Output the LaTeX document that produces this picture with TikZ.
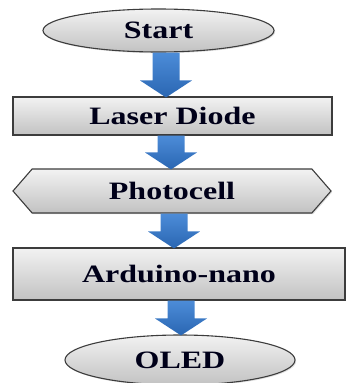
\documentclass[tikz,border=0pt]{standalone}
\usepackage{fontspec}
\setmainfont{Liberation Serif}
\usepackage{tikz}
\usetikzlibrary{calc, shapes.geometric, shapes.symbols, shadows}

\definecolor{boxtop}{HTML}{F2F2F2}
\definecolor{boxbot}{HTML}{C2C2C2}
\definecolor{boxline}{HTML}{3C3C3C}
\definecolor{arrtop}{HTML}{4C8CD8}
\definecolor{arrbot}{HTML}{2A66B2}

% wide bold label (the source text is stretched sideways)
\newcommand{\wide}[1]{\scalebox{1.28}[1]{#1}}

% block arrow from the bottom of one node to the top of the next, at x = #3
\newcommand{\flowarrow}[3]{%
    \path (#3,0 |- #1.south) coordinate (at) (#3,0 |- #2.north) coordinate (ab);
    \shade[arr] ($(at)+(-13.5,0)$) -- ($(at)+(13.5,0)$)
        -- ($(ab)+(13.5,-16)$) -- ($(ab)+(26,-16)$) -- ($(ab)+(0,1)$)
        -- ($(ab)+(-26,-16)$) -- ($(ab)+(-13.5,-16)$) -- cycle;
}

\begin{document}
\begin{tikzpicture}[
    x=1pt, y=-1pt,
    font=\bfseries\fontsize{25}{25}\selectfont,
    base/.style={draw=boxline, line width=1.1pt, top color=boxtop,
                 bottom color=boxbot, text=black!90!blue, inner sep=0pt,
                 drop shadow={opacity=0.25, shadow xshift=1.2pt, shadow yshift=-1.2pt}},
    term/.style={base, ellipse, minimum width=231pt, minimum height=43pt},
    proc/.style={base, rectangle, minimum height=38pt},
    io/.style={base, signal, signal to=east and west, signal pointer angle=98,
               minimum width=318pt, minimum height=44pt},
    arr/.style={top color=arrtop, bottom color=arrbot, draw=none},
]
    \useasboundingbox (0,0) rectangle (347,383);

    % Nodes
    \node[term] (start) at (158.5, 30.5) {\wide{Start}};
    \node[proc, minimum width=319pt] (laser) at (172.5, 116) {\wide{Laser Diode}};
    \node[io] (photo) at (172, 191) {\wide{Photocell}};
    \node[proc, minimum width=332pt, minimum height=52pt] (nano) at (179, 274)
        {\wide{Arduino-nano}};
    \node[term, minimum width=230pt, minimum height=50pt] (oled) at (180, 360)
        {\wide{OLED}};

    % Arrows
    \flowarrow{start}{laser}{166}
    \flowarrow{laser}{photo}{171}
    \flowarrow{photo}{nano}{174}
    \flowarrow{nano}{oled}{181}
\end{tikzpicture}
\end{document}
